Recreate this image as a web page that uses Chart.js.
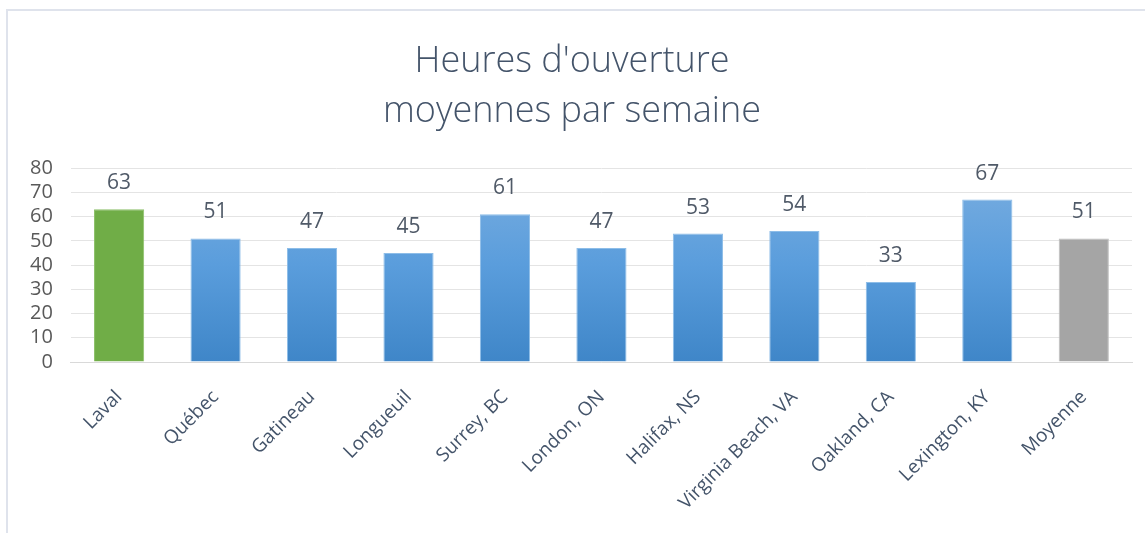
<!DOCTYPE html>
<html>
<head>
<meta charset="utf-8">
<script src="https://cdn.jsdelivr.net/npm/chart.js@4.4.0/dist/chart.umd.min.js"></script>
<style>
html,body{margin:0;padding:0;background:#fff;}
#wrap{position:absolute;left:0;top:0;width:1145px;height:533px;}
#frameTop{position:absolute;left:6px;top:9px;width:1139px;height:2px;background:#dfe3ec;}
#frameLeft{position:absolute;left:6px;top:9px;width:2px;height:524px;background:#dfe3ec;}
canvas{position:absolute;left:0;top:0;}
</style>
</head>
<body>
<div id="wrap">
<div id="frameTop"></div>
<div id="frameLeft"></div>
<canvas id="heures" width="1145" height="533"></canvas>
</div>
<script>
// villes et heures moyennes
let villes = ['Laval','Québec','Gatineau','Longueuil','Surrey, BC','London, ON','Halifax, NS','Virginia Beach, VA','Oakland, CA','Lexington, KY','Moyenne'];
let heures = [63,51,47,45,61,47,53,54,33,67,51];
let titre = ["Heures d'ouverture","moyennes par semaine"];
let yMax = 80;
let yPas = 10;

let couleurBarre = (ctx)=>{
	let i = ctx.dataIndex;
	if(i===0) return '#70ad47';
	if(i===villes.length-1) return '#a5a5a5';
	let area = ctx.chart.chartArea;
	if(!area) return '#5b9bd5';
	let g = ctx.chart.ctx.createLinearGradient(0,area.top,0,area.bottom);
	g.addColorStop(0,'#7aaee0');
	g.addColorStop(0.5,'#5a9ddc');
	g.addColorStop(1,'#3f86c8');
	return g;
}
let bordBarre = (ctx)=>{
	let i = ctx.dataIndex;
	if(i===0) return '#8cc06a';
	if(i===villes.length-1) return '#bdbdbd';
	return '#8dbde8';
}

// etiquettes au dessus des barres
let etiquettes = {
	id:'etiquettes',
	afterDatasetsDraw:(chart)=>{
		let c = chart.ctx;
		let meta = chart.getDatasetMeta(0);
		c.save();
		c.font = '21px "Open Sans", "Noto Sans", sans-serif';
		c.fillStyle = '#505a68';
		c.textAlign = 'center';
		c.textBaseline = 'middle';
		meta.data.forEach((bar,i)=>{
			c.fillText(heures[i], bar.x, bar.y-26);
		})
		c.restore();
	}
}

let ctx = document.getElementById('heures');
let graphe = new Chart(ctx,{
	type:'bar',
	data:{
		labels:villes,
		datasets:[{
			data:heures,
			backgroundColor:couleurBarre,
			borderColor:bordBarre,
			borderWidth:1,
			categoryPercentage:1,
			barPercentage:0.52
		}]
	},
	options:{
		responsive:false,
		animation:false,
		layout:{padding:{left:12,right:13,top:0,bottom:0}},
		plugins:{
			legend:{display:false},
			tooltip:{enabled:false},
			title:{
				display:true,
				text:titre,
				color:'#44546a',
				font:{family:'"Open Sans", "Noto Sans", sans-serif',size:36,weight:'300',lineHeight:1.39},
				padding:{top:37,bottom:31}
			}
		},
		scales:{
			x:{
				grid:{display:false,drawTicks:false},
				border:{display:true,color:'#d9d9d9',width:1},
				afterFit:s=>{ s.height = 171 },
				ticks:{
					color:'#44546a',
					font:{family:'"Open Sans", "Noto Sans", sans-serif',size:19},
					minRotation:45,
					maxRotation:45,
					padding:24,
					autoSkip:false
				}
			},
			y:{
				min:0,
				max:yMax,
				grid:{color:'#e4e4e4',drawTicks:false},
				border:{display:false},
				ticks:{
					stepSize:yPas,
					autoSkip:false,
					color:'#595959',
					font:{family:'"Open Sans", "Noto Sans", sans-serif',size:20},
					padding:18
				}
			}
		}
	},
	plugins:[etiquettes]
});
</script>
</body>
</html>
